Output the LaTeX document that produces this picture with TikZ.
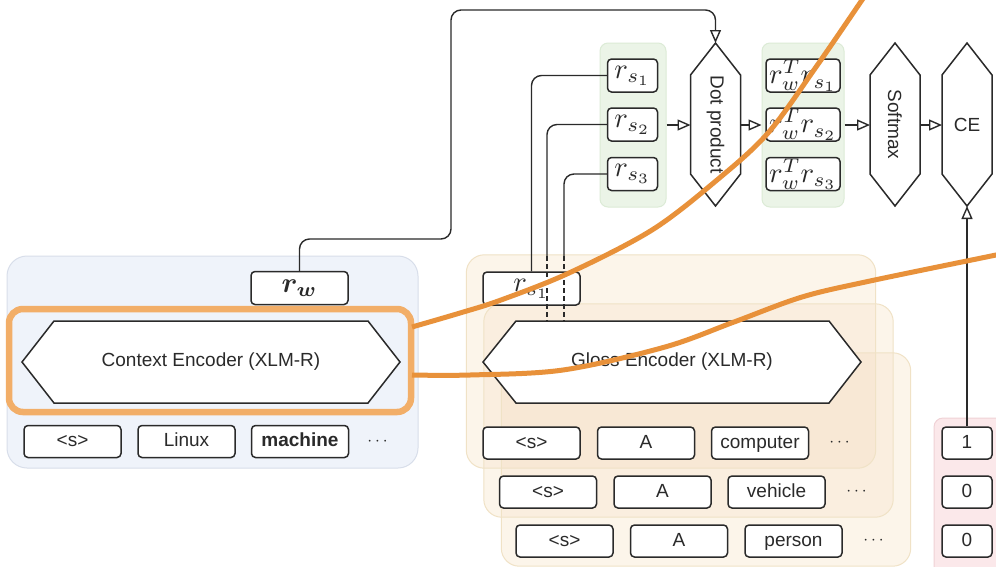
\documentclass[tikz,border=0pt]{standalone}
\usepackage{amsmath,bm}
\usepackage{graphicx}
\usepackage{fontspec}
\setmainfont{Liberation Sans}
\usetikzlibrary{arrows.meta}

\definecolor{ink}{HTML}{2A2A2A}
\definecolor{ctxfill}{HTML}{EFF3FA}
\definecolor{ctxline}{HTML}{D8DEEA}
\definecolor{grnfill}{HTML}{EBF4E7}
\definecolor{grnline}{HTML}{DCEBD6}
\definecolor{glsone}{HTML}{FCF5EA}
\definecolor{glstwo}{HTML}{FAEEDF}
\definecolor{glsthree}{HTML}{F8E8D5}
\definecolor{glsline}{HTML}{F0E2C6}
\definecolor{pnkfill}{HTML}{FBE8EA}
\definecolor{pnkline}{HTML}{F0D2D6}
\definecolor{hiline}{HTML}{F2AE68}
\definecolor{hicurve}{HTML}{E8913A}

% math set at 10pt and enlarged, so the fixed-size CM math fonts stay sharp
\newcommand{\vecmath}[1]{\scalebox{2.85}{$#1$}}

\tikzset{
  txt/.style={font=\fontsize{19}{22}\selectfont, text=ink},
  tok/.style={draw=ink, line width=1.5pt, rounded corners=4pt, fill=white,
    minimum width=97pt, minimum height=32pt, inner sep=0pt, txt,
    text height=14pt, text depth=4pt},
  vec/.style={draw=ink, line width=1.5pt, rounded corners=4pt, fill=white,
    minimum height=33pt, inner sep=0pt, text=ink},
  lbl/.style={tok, minimum width=50pt},
  hexbox/.style={draw=ink, line width=1.5pt, line join=miter},
  ctxgrp/.style={draw=ctxline, fill=ctxfill, line width=1pt, rounded corners=20pt,
    inner sep=0pt},
  layer/.style={minimum width=409pt, minimum height=213pt, inner sep=0pt},
  glsr/.style={rounded corners=18pt},
  grngrp/.style={draw=grnline, fill=grnfill, line width=1pt, rounded corners=8pt,
    inner sep=0pt},
  pnkgrp/.style={draw=pnkline, fill=pnkfill, line width=1pt, rounded corners=9pt,
    inner sep=0pt},
  conn/.style={draw=ink, line width=1.4pt},
  arr/.style={conn, -{Triangle[open, length=13pt, width=11pt, line width=1.4pt]}},
  dashedlink/.style={conn, dash pattern=on 5pt off 3pt},
  dots/.style={txt},
}

\begin{document}
\begin{tikzpicture}[x=1pt, y=-1pt]
\useasboundingbox (0,0) rectangle (996,566);
\clip (0,0) rectangle (996,566);
\fill[white] (0,0) rectangle (996,566);

% ---------------- context encoder block ----------------
\node[ctxgrp, minimum width=411pt, minimum height=212pt] (ctxgrp) at (212.5,362) {};
\fill[white] (22,362) -- (54,321) -- (368,321) -- (400,362) -- (368,403) -- (54,403) -- cycle;
\draw[hexbox] (22,362) -- (54,321) -- (368,321) -- (400,362) -- (368,403) -- (54,403) -- cycle;
\node[txt] (ctx) at (211,362) {Context Encoder (XLM-R)};
\node[vec, minimum width=97pt] (rw) at (299.5,288) {\vecmath{\bm{r_w}}};
\node[tok] (c1) at (72.5,441.5) {<s>};
\node[tok] (c2) at (186.5,441.5) {Linux};
\node[tok] (c3) at (300,441.5) {\bfseries machine};
\node[dots] (cd) at (379,441.5) {$\cdots$};

% ---------------- gloss encoder stack (three stacked layers) ----------------
\node[layer] (gl1) at (671,361.5) {};
\node[layer] (gl2) at (688.5,410.5) {};
\node[layer] (gl3) at (706,459.5) {};
\foreach \g in {gl1,gl2,gl3}
  \fill[glsone, glsr] (\g.north west) rectangle (\g.south east);
\begin{scope}
  \clip[glsr] (gl1.north west) rectangle (gl1.south east);
  \fill[glstwo, glsr] (gl2.north west) rectangle (gl2.south east);
  \fill[glstwo, glsr] (gl3.north west) rectangle (gl3.south east);
\end{scope}
\begin{scope}
  \clip[glsr] (gl2.north west) rectangle (gl2.south east);
  \fill[glstwo, glsr] (gl3.north west) rectangle (gl3.south east);
  \clip[glsr] (gl1.north west) rectangle (gl1.south east);
  \fill[glsthree, glsr] (gl3.north west) rectangle (gl3.south east);
\end{scope}
\foreach \g in {gl1,gl2,gl3}
  \draw[glsline, line width=1pt, glsr] (\g.north west) rectangle (\g.south east);

\node[vec, minimum width=97pt] (grs) at (531.5,288.5) {\vecmath{r_{s_1}}};

\node[tok] (a1) at (531.5,443) {<s>};
\node[tok] (a2) at (646,443) {A};
\node[tok] (a3) at (760,443) {computer};
\node[dots] (ad) at (841,443) {$\cdots$};

\node[tok] (b1) at (548,492) {<s>};
\node[tok] (b2) at (662.5,492) {A};
\node[tok] (b3) at (776.5,492) {vehicle};
\node[dots] (bd) at (858,492) {$\cdots$};

\node[tok] (d1) at (564.5,541) {<s>};
\node[tok] (d2) at (679,541) {A};
\node[tok] (d3) at (793.5,541) {person};
\node[dots] (dd) at (875,541) {$\cdots$};

% ---------------- gold labels ----------------
\node[pnkgrp, minimum width=80pt, minimum height=170pt] (lab) at (974,503) {};
\node[lbl] (y1) at (967,443) {1};
\node[lbl] (y2) at (967,492) {0};
\node[lbl] (y3) at (967,541) {0};

% ---------------- sense vectors and scores ----------------
\node[grngrp, minimum width=66pt, minimum height=164pt] (g1) at (633,125) {};
\node[vec, minimum width=50pt] (rs1) at (632.5,75.5) {\vecmath{r_{s_1}}};
\node[vec, minimum width=50pt] (rs2) at (632.5,124.5) {\vecmath{r_{s_2}}};
\node[vec, minimum width=50pt] (rs3) at (632.5,174) {\vecmath{r_{s_3}}};

\node[grngrp, minimum width=82pt, minimum height=164pt] (g2) at (803,125) {};
\node[vec, minimum width=74pt] (p1) at (803,75.5) {\vecmath{r_w^T r_{s_1}}};
\node[vec, minimum width=74pt] (p2) at (803,124.5) {\vecmath{r_w^T r_{s_2}}};
\node[vec, minimum width=74pt] (p3) at (803,174) {\vecmath{r_w^T r_{s_3}}};

% vertical hexagons: dot product, softmax, cross-entropy
\fill[white] (715.5,43) -- (740.5,75) -- (740.5,174) -- (715.5,206) -- (690.5,174) -- (690.5,75) -- cycle;
\draw[hexbox] (715.5,43) -- (740.5,75) -- (740.5,174) -- (715.5,206) -- (690.5,174) -- (690.5,75) -- cycle;
\node[txt, rotate=-90] (dp) at (715.5,124.5) {Dot product};
\coordinate (dp-n) at (715.5,43);
\coordinate (dp-w) at (690.5,125);
\coordinate (dp-e) at (740.5,125);

\draw[hexbox] (895,43) -- (920,75) -- (920,174) -- (895,206) -- (870,174) -- (870,75) -- cycle;
\node[txt, rotate=-90] (sm) at (895,124.5) {Softmax};
\coordinate (sm-w) at (870,125);
\coordinate (sm-e) at (920,125);

\draw[hexbox] (967,43) -- (992,75) -- (992,174) -- (967,206) -- (942,174) -- (942,75) -- cycle;
\node[txt] (ce) at (967,124.5) {CE};
\coordinate (ce-w) at (942,125);
\coordinate (ce-s) at (967,206);

% gloss encoder hexagon, on top of the stacked layer panels
\fill[white] (483,362) -- (516,321) -- (829,321) -- (861,362) -- (829,403) -- (516,403) -- cycle;
\draw[hexbox] (483,362) -- (516,321) -- (829,321) -- (861,362) -- (829,403) -- (516,403) -- cycle;
\node[txt] (gls) at (672,362) {Gloss Encoder (XLM-R)};

% ---------------- connectors ----------------
\coordinate (up1) at (451,239);
\coordinate (up2) at (715.5,10);
\draw[arr, rounded corners=10pt] (rw.north) |- (up1) |- (up2) -- (dp-n);

\draw[conn, rounded corners=10pt] (rs1.west) -| (grs.north);
\coordinate (k2) at (547,256);
\coordinate (k3) at (564,256);
\coordinate (e2) at (547,321);
\coordinate (e3) at (564,321);
\draw[conn, rounded corners=10pt] (rs2.west) -| (k2);
\draw[conn, rounded corners=10pt] (rs3.west) -| (k3);
\draw[dashedlink] (k2) -- (e2);
\draw[dashedlink] (k3) -- (e3);

\draw[arr] (g1.east |- dp-w) -- (dp-w);
\draw[arr] (dp-e) -- (g2.west |- dp-e);
\draw[arr] (g2.east |- sm-w) -- (sm-w);
\draw[arr] (sm-e) -- (ce-w);
\draw[arr] (y1.north) -- (ce-s);

% ---------------- highlight of the context encoder ----------------
\node[draw=hiline, line width=6.5pt, rounded corners=14pt, minimum width=402pt,
  minimum height=103pt, inner sep=0pt] (hl) at (210,360.5) {};
\coordinate (hl-a) at (412,327);
\coordinate (hl-b) at (412,375);
\draw[hicurve, line width=5pt] plot[smooth, tension=0.55] coordinates
  {(hl-a) (460,313) (501,300) (569,273) (652,230) (717,180) (768,133) (816,67) (862,0) (868,-9)};
\draw[hicurve, line width=5pt] plot[smooth, tension=0.55] coordinates
  {(hl-b) (470,375) (563,370) (665,347) (734,322) (802,297) (870,281) (996,255) (1010,252)};
\end{tikzpicture}
\end{document}
